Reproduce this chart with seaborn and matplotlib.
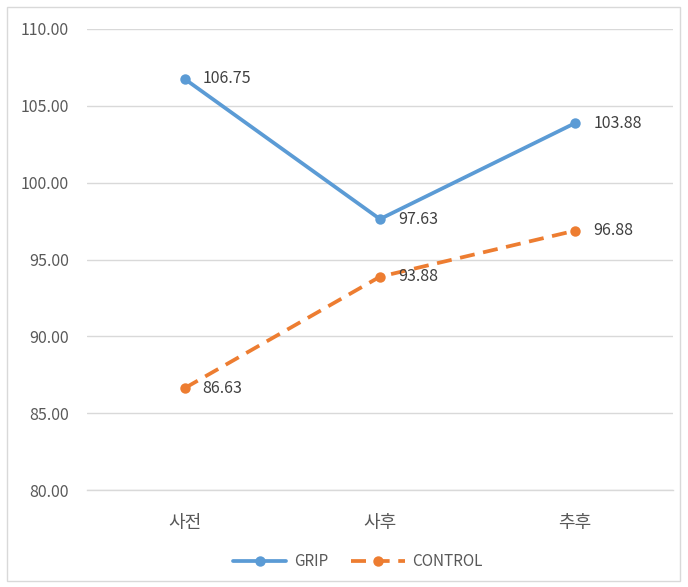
import matplotlib
matplotlib.use("Agg")
import matplotlib.pyplot as plt
from matplotlib.patches import Rectangle
from matplotlib.lines import Line2D
import seaborn as sns
import pandas as pd

categories = ["사전", "사후", "추후"]
grip = [106.75, 97.63, 103.88]
control = [86.63, 93.88, 96.88]
series_names = ["GRIP", "CONTROL"]
yticks = [80, 85, 90, 95, 100, 105, 110]

BLUE = "#5B9BD5"
ORANGE = "#ED7D31"
TEXT = "#595959"

data = pd.DataFrame({
    "time": categories * 2,
    "value": grip + control,
    "group": [series_names[0]] * 3 + [series_names[1]] * 3,
})

sns.set_style("white")
plt.rcParams["font.family"] = ["Noto Sans CJK KR", "DejaVu Sans"]

fig = plt.figure(figsize=(6.88, 5.87), dpi=100)
ax = fig.add_axes([0.1265, 0.1652, 0.8515, 0.7854])

sns.lineplot(data=data, x="time", y="value", hue="group", style="group",
             palette=[BLUE, ORANGE], dashes=[(1, 0), (4, 2.3)],
             markers=["o", "o"], markersize=7.5, markeredgewidth=0,
             linewidth=2.7, sort=False, legend=False, ax=ax)

for vals in (grip, control):
    for i, v in enumerate(vals):
        ax.annotate(f"{v:.2f}", (i, v), xytext=(13, 0), textcoords="offset points",
                    va="center", ha="left", fontsize=11.5, color="#404040")

ax.set_xlim(-0.5, 2.5)
ax.set_ylim(80, 110)
ax.set_yticks(yticks)
ax.set_yticklabels([f"{t:.2f}" for t in yticks], fontsize=11.5, color=TEXT)
ax.set_xticks(range(len(categories)))
ax.set_xticklabels(categories, fontsize=13, color=TEXT)
ax.tick_params(axis="both", length=0)
ax.tick_params(axis="y", pad=13)
ax.tick_params(axis="x", pad=17)
ax.grid(axis="y", color="#D9D9D9", linewidth=1)
ax.set_axisbelow(True)
ax.set_xlabel("")
ax.set_ylabel("")
for s in ["top", "right", "left"]:
    ax.spines[s].set_visible(False)
ax.spines["bottom"].set_color("#D9D9D9")
ax.spines["bottom"].set_linewidth(1)

handles = [
    Line2D([], [], color=BLUE, linewidth=2.7, marker="o", markersize=7.5, markeredgewidth=0),
    Line2D([], [], color=ORANGE, linewidth=2.7, linestyle=(0, (4, 2.3)), marker="o",
           markersize=7.5, markeredgewidth=0),
]
fig.legend(handles, series_names, loc="center", bbox_to_anchor=(0.52, 0.043), ncol=2,
           frameon=False, fontsize=11, labelcolor=TEXT, handlelength=3.5,
           columnspacing=1.5, handletextpad=0.5)

fig.patches.append(Rectangle((7 / 688, 6 / 587), 673 / 688, 574 / 587,
                             transform=fig.transFigure, fill=False,
                             edgecolor="#D9D9D9", linewidth=1))

fig.savefig("out.png", dpi=100, facecolor="white")
